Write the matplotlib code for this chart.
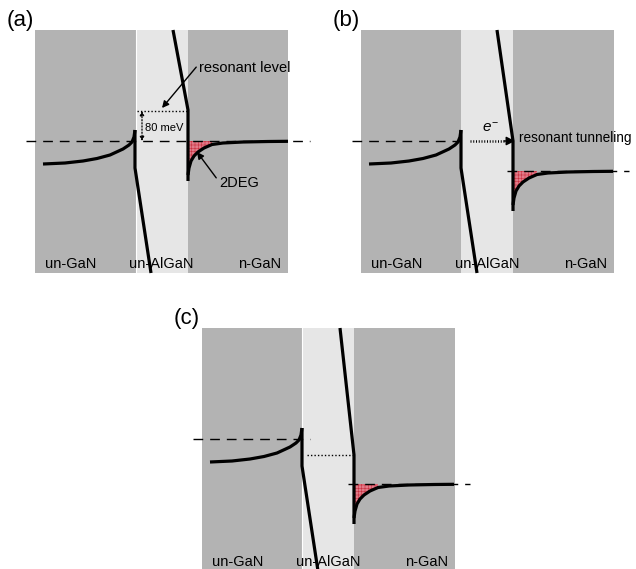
import numpy as np
import matplotlib.pyplot as plt

plt.rcParams['font.family'] = ['Liberation Sans', 'DejaVu Sans']
plt.rcParams['mathtext.fontset'] = 'custom'
plt.rcParams['mathtext.rm'] = 'Liberation Sans'
plt.rcParams['mathtext.it'] = 'Liberation Sans:italic'
plt.rcParams['hatch.linewidth'] = 0.4

# panels (pixel frame of the whole figure)
panel_names = ['(a)', '(b)', '(c)']
panel_x = [35, 361, 202]
panel_y = [30, 30, 328]
panel_w = 253
panel_h = 243
algan_x = [101, 100, 100]
algan_w = 52
white_edge = [True, False, True]

layer_labels = ['un-GaN', 'un-AlGaN', 'n-GaN']
label_x = [36, 126, 225]
label_y = 234

# left GaN band bending (same in every panel), relative to panel origin
left_band_x = [8, 30, 48, 62, 75, 88, 94, 97, 99, 100]
left_band_y = [134, 133, 131, 128.5, 125, 119, 115, 112, 107, 100]
left_drop = [(100, 100), (100, 138), (116, 243)]

# AlGaN right side: top point, corner at interface
top_x = [138, 136, 138]
corner_y = [80, 111, 127]
fermi_right = [111, 141, 156]
well_depth = 40

# 2DEG well shape: offset from interface, depth below Fermi level
well_dx = [0, 1, 3, 6, 10, 16, 24, 35, 55, 80, 100]
well_dy = [34, 27, 20, 15, 11, 7, 3.5, 2, 1, 0.5, 0.3]
fill_dx_max = 28

# Fermi levels
fermi_left = 111
fermi_left_start = -9
fermi_left_end = [275, 100, 108]
fermi_right_span = [None, (146, 268), (146, 268)]

GRAY = '#b3b3b3'
LIGHT = '#e6e6e6'
LW = 2.3

fig = plt.figure(figsize=(6.36, 5.69), dpi=100)
ax = fig.add_axes([0, 0, 1, 1])
ax.set_xlim(0, 636)
ax.set_ylim(569, 0)
ax.axis('off')

for i in range(3):
    x0, y0 = panel_x[i], panel_y[i]
    xa = x0 + algan_x[i]
    xb = xa + algan_w
    ax.add_patch(plt.Rectangle((x0, y0), panel_w, panel_h, color=GRAY, lw=0, zorder=0))
    ax.add_patch(plt.Rectangle((xa, y0), algan_w, panel_h, color=LIGHT, lw=0, zorder=0))
    if white_edge[i]:
        ax.plot([xa, xa], [y0, y0 + panel_h], color='white', lw=0.8, zorder=0.5)

    ax.text(x0 - 28, y0 - 10, panel_names[i], fontsize=16, ha='left', va='center')

    for lab, lx in zip(layer_labels, label_x):
        ax.text(x0 + lx, y0 + label_y, lab, fontsize=10.5, ha='center', va='center', zorder=2)

    # left band
    ax.plot(x0 + np.array(left_band_x), y0 + np.array(left_band_y), color='k', lw=LW,
            solid_capstyle='butt', zorder=3)
    dx, dy = zip(*left_drop)
    ax.plot(x0 + np.array(dx), y0 + np.array(dy), color='k', lw=LW,
            solid_capstyle='butt', solid_joinstyle='miter', zorder=3)

    # barrier right side and well
    yc = y0 + corner_y[i]
    yf = y0 + fermi_right[i]
    ax.plot([x0 + top_x[i], xb, xb], [y0, yc, yf + well_depth], color='k', lw=LW,
            solid_capstyle='butt', solid_joinstyle='miter', zorder=3)
    wx = xb + np.array(well_dx)
    wy = yf + np.array(well_dy)
    ax.plot(wx, wy, color='k', lw=LW, solid_capstyle='butt', zorder=3)
    m = np.array(well_dx) <= fill_dx_max
    ax.fill_between(wx[m], yf, wy[m], facecolor='#e27a88', edgecolor='#c8303f',
                    hatch='+++++', lw=0, zorder=2.5)

    # Fermi levels
    ax.plot([x0 + fermi_left_start, x0 + fermi_left_end[i]], [y0 + fermi_left] * 2,
            color='k', lw=1, dashes=(7, 5), zorder=2.8)
    if fermi_right_span[i] is not None:
        s, e = fermi_right_span[i]
        ax.plot([x0 + s, x0 + e], [yf, yf], color='k', lw=1, dashes=(7, 5), zorder=2.8)

# (a) annotations
x0, y0 = panel_x[0], panel_y[0]
ax.plot([x0 + 102, x0 + 153], [y0 + 81, y0 + 81], color='k', lw=1, ls=(0, (1, 1.5)), zorder=3)
ax.annotate('', xy=(x0 + 107, y0 + 81), xytext=(x0 + 107, y0 + 111),
            arrowprops=dict(arrowstyle='<|-|>', color='k', lw=0.9, ls=(0, (1, 1.5)),
                            mutation_scale=6, shrinkA=0, shrinkB=0), zorder=3)
ax.text(x0 + 110, y0 + 98, '80 meV', fontsize=8, ha='left', va='center', zorder=3)
ax.annotate('resonant level', xy=(x0 + 127, y0 + 78), xytext=(x0 + 164, y0 + 38),
            fontsize=10.5, ha='left', va='center',
            arrowprops=dict(arrowstyle='-|>', color='k', lw=1, mutation_scale=10,
                            shrinkA=0, shrinkB=0, relpos=(0, 0.8)), zorder=4)
ax.annotate('2DEG', xy=(x0 + 162, y0 + 122), xytext=(x0 + 184, y0 + 153),
            fontsize=10.5, ha='left', va='center',
            arrowprops=dict(arrowstyle='-|>', color='k', lw=1, mutation_scale=10,
                            shrinkA=0, shrinkB=0, relpos=(0, 0.6)), zorder=4)

# (b) annotations
x0, y0 = panel_x[1], panel_y[1]
ax.plot([x0 + 109, x0 + 145], [y0 + 111, y0 + 111], color='k', lw=1.8,
        ls=(0, (0.4, 0.7)), solid_capstyle='butt', zorder=4)
ax.annotate('', xy=(x0 + 154, y0 + 111), xytext=(x0 + 143, y0 + 111),
            arrowprops=dict(arrowstyle='-|>', color='k', lw=1,
                            mutation_scale=13, shrinkA=0, shrinkB=0), zorder=4)
ax.text(x0 + 129, y0 + 98, r'$e^{-}$', fontsize=11, ha='center', va='center', zorder=4)
ax.text(x0 + 158, y0 + 108, 'resonant tunneling', fontsize=9.8, ha='left', va='center', zorder=4)

# (c) annotation
x0, y0 = panel_x[2], panel_y[2]
ax.plot([x0 + 105, x0 + 153], [y0 + 127, y0 + 127], color='k', lw=1, ls=(0, (1, 1.5)), zorder=3)

fig.savefig('out.png', dpi=100)
